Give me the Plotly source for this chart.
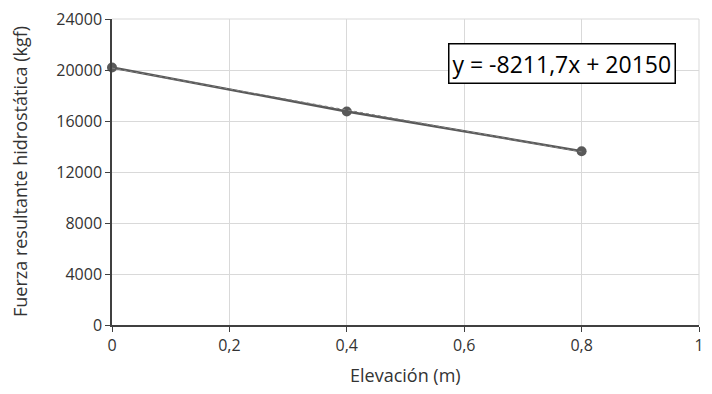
import plotly.graph_objects as go

elev = [0, 0.4, 0.8]
fuerza = [20200, 16750, 13630]
slope = -8211.7
intercept = 20150
trend_x = [0, 0.8]
trend_y = [slope * x + intercept for x in trend_x]

x_ticks = [0, 0.2, 0.4, 0.6, 0.8, 1]
x_ticktext = ["0", "0,2", "0,4", "0,6", "0,8", "1"]
y_ticks = [0, 4000, 8000, 12000, 16000, 20000, 24000]
y_ticktext = ["0", "4000", "8000", "12000", "16000", "20000", "24000"]

# page body has an 8px margin; figure placed at (8, 8) and sized to avoid scrollbars
OFF = 8
W, H = 712 - 2 * OFF, 394 - 2 * OFF
L, R, T, B = 112, 699, 19, 325  # plot area in screen pixels
pw, ph = R - L, B - T


def px(x):
    return (x - L) / pw


def py(y):
    return (B - y) / ph


GRID = "#d9d9d9"

fig = go.Figure()
fig.add_trace(go.Scatter(x=elev, y=fuerza, mode="lines+markers",
                         line=dict(color="#595959", width=2.5),
                         marker=dict(color="#595959", size=10),
                         showlegend=False, cliponaxis=False))
fig.add_trace(go.Scatter(x=trend_x, y=trend_y, mode="lines",
                         line=dict(color="#7f7f7f", width=1, dash="dot"),
                         showlegend=False))

font = "Open Sans, Liberation Sans, sans-serif"
fig.update_layout(
    width=W, height=H,
    margin=dict(l=L - OFF, r=(OFF + W) - R, t=T - OFF, b=(OFF + H) - B, autoexpand=False),
    paper_bgcolor="white", plot_bgcolor="white",
    font=dict(family=font, size=16, color="#333333"),
    xaxis=dict(range=[0, 1], tickvals=x_ticks, ticktext=x_ticktext,
               showgrid=True, gridcolor=GRID, gridwidth=1,
               showline=True, linecolor="#404040", linewidth=1.5,
               ticks="outside", ticklen=5, tickcolor="#404040",
               ticklabeloverflow="allow",
               zeroline=False, automargin=False),
    yaxis=dict(range=[0, 24000], tickvals=y_ticks, ticktext=y_ticktext,
               showgrid=True, gridcolor=GRID, gridwidth=1,
               showline=True, linecolor="#404040", linewidth=1.5,
               ticks="outside", ticklen=5, tickcolor="#404040",
               ticklabeloverflow="allow",
               zeroline=False, automargin=False),
    shapes=[
        dict(type="line", xref="paper", yref="paper", x0=0, x1=1, y0=1, y1=1,
             line=dict(color=GRID, width=1), layer="below"),
        dict(type="line", xref="paper", yref="paper", x0=1, x1=1, y0=0, y1=1,
             line=dict(color=GRID, width=1), layer="below"),
    ],
    annotations=[
        dict(x=px(676), y=py(63), xref="paper", yref="paper",
             xanchor="right", yanchor="middle",
             text="y = -8211,7x + 20150", showarrow=False,
             font=dict(size=23, color="#000000", family=font),
             bordercolor="#000000", borderwidth=1.5, borderpad=3,
             bgcolor="white"),
        dict(x=px(406), y=py(375), xref="paper", yref="paper", showarrow=False,
             text="Elevación (m)", font=dict(size=18, color="#333333"),
             xanchor="center", yanchor="middle"),
        dict(x=px(20), y=py(172), xref="paper", yref="paper",
             showarrow=False, textangle=-90,
             text="Fuerza resultante hidrostática (kgf)",
             font=dict(size=18, color="#333333"),
             xanchor="center", yanchor="middle"),
    ],
)

fig.write_html("out.html")
